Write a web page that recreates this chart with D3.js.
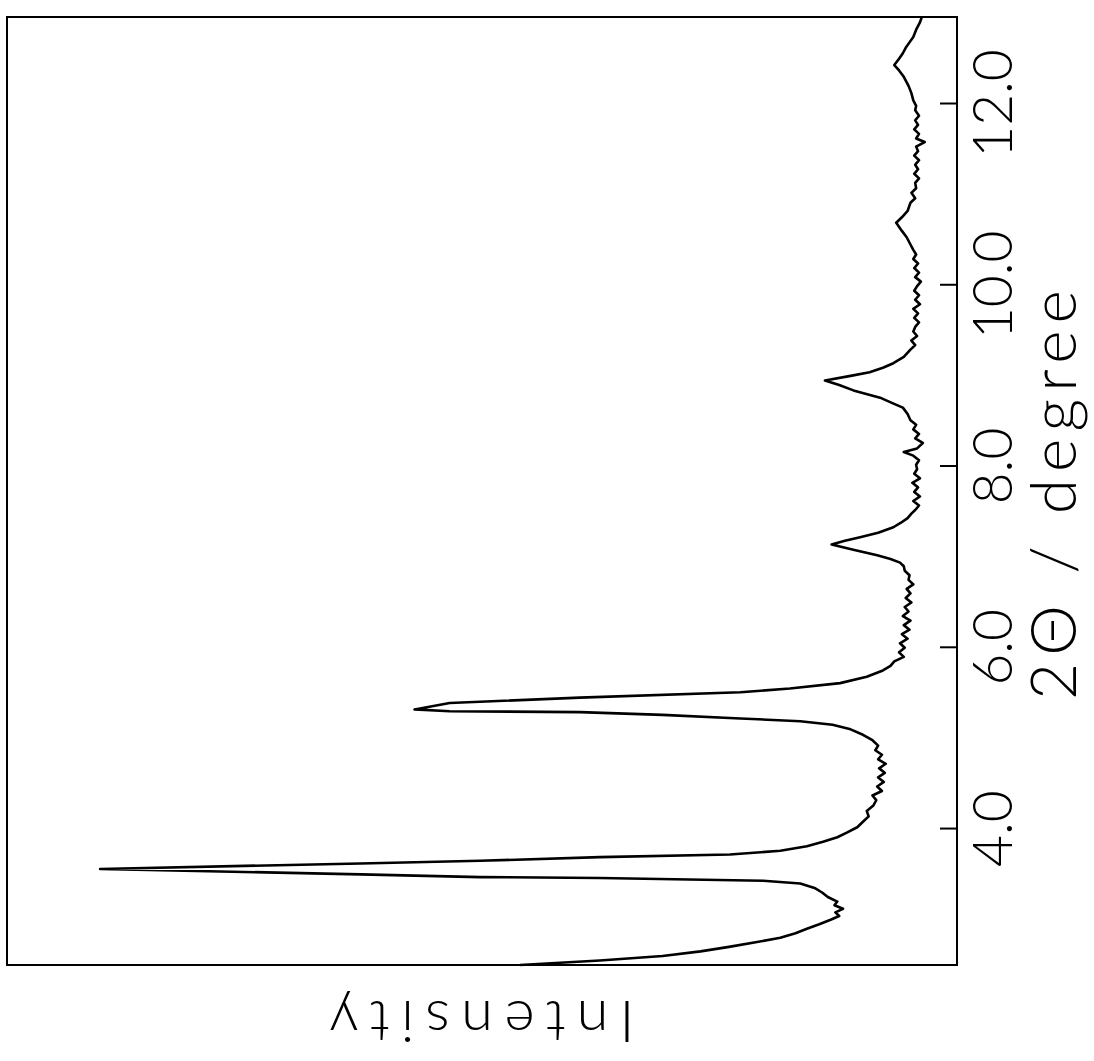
<!DOCTYPE html>
<html>
<head>
<meta charset="utf-8">
<script src="https://cdn.jsdelivr.net/npm/d3@7"></script>
<style>
  body { margin: 0; background: #fff; }
  text { font-family: Lato, "Open Sans", sans-serif; font-weight: 300; fill: #000; }
</style>
</head>
<body>
<script>
// 2theta (degree) and intensity (arbitrary units, 0-100)
var twoTheta = [
  2.50, 2.55, 2.60, 2.65, 2.70, 2.75, 2.80, 2.85, 2.90, 2.95, 3.00, 3.04, 3.08, 3.12, 3.16, 3.20, 3.25, 3.30, 3.35, 3.40,
  3.43, 3.46, 3.47, 3.50, 3.56, 3.62, 3.65, 3.69, 3.72, 3.76, 3.81, 3.86, 3.91, 3.96, 4.02,
  4.08, 4.14, 4.20, 4.26, 4.32, 4.37, 4.42, 4.47, 4.52, 4.57, 4.62, 4.67, 4.72, 4.77, 4.82, 4.87, 4.92, 4.98, 5.04, 5.10,
  5.15, 5.19, 5.22, 5.26, 5.29, 5.30, 5.32, 5.39, 5.45, 5.51, 5.55, 5.61, 5.68, 5.75, 5.80, 5.85, 5.90, 5.95, 6.00,
  6.05, 6.10, 6.15, 6.20, 6.25, 6.30, 6.35, 6.40, 6.45, 6.50, 6.55, 6.60, 6.65, 6.70, 6.75, 6.80, 6.85, 6.90, 6.94,
  6.98, 7.02, 7.08, 7.14, 7.18, 7.22, 7.27, 7.33, 7.38, 7.43, 7.48, 7.52,
  7.57, 7.62, 7.67, 7.72, 7.77, 7.82, 7.87, 7.92, 7.97, 8.02, 8.07, 8.12, 8.16, 8.20, 8.26, 8.31, 8.36, 8.41, 8.46,
  8.51, 8.58, 8.65, 8.70, 8.76, 8.84, 8.90, 8.95, 9.00, 9.04, 9.09, 9.14, 9.21, 9.29,
  9.34, 9.39, 9.44, 9.49, 9.54, 9.59, 9.64, 9.69, 9.74, 9.79, 9.84, 9.89, 9.94, 9.99, 10.04, 10.09, 10.14, 10.19, 10.24,
  10.29, 10.34, 10.39, 10.45, 10.53, 10.60, 10.69, 10.75, 10.82, 10.91, 10.96, 11.02, 11.07, 11.13, 11.18, 11.23, 11.28,
  11.33, 11.38, 11.43, 11.48, 11.53, 11.58, 11.62, 11.67, 11.72, 11.77, 11.82, 11.87, 11.93, 11.98, 12.04, 12.12, 12.20,
  12.30, 12.37, 12.43, 12.50, 12.56, 12.62, 12.68, 12.74, 12.82, 12.90, 12.96
];
var intensity = [
  46.0, 37.6, 31.0, 27.0, 24.0, 21.2, 18.6, 17.0, 15.8, 14.5, 13.3, 12.4, 12.8, 12.0, 12.9, 12.6, 13.6, 14.2, 15.0, 16.5,
  20.4, 37.6, 50.2, 62.8, 90.2, 62.8, 50.2, 37.6, 23.9, 18.6, 15.8, 14.1, 12.6, 11.6, 10.5,
  9.9, 9.3, 9.5, 8.8, 8.5, 8.9, 7.9, 8.4, 7.7, 8.3, 7.6, 8.2, 7.5, 8.3, 7.9, 8.6, 8.3, 8.9, 9.9, 11.2,
  13.1, 16.5, 22.8, 31.0, 39.7, 53.4, 57.1, 53.4, 39.7, 22.8, 17.6, 12.3, 9.5, 7.8, 7.0, 6.6, 5.6, 6.1, 5.5,
  6.0, 5.2, 5.8, 5.0, 5.6, 4.9, 5.7, 5.1, 5.5, 4.8, 5.4, 4.9, 5.3, 4.6, 5.1, 5.0, 5.5, 5.6, 6.0,
  7.0, 8.4, 10.8, 13.2, 11.8, 10.2, 8.3, 6.7, 5.9, 5.2, 4.8, 4.4,
  4.0, 4.6, 3.9, 4.5, 4.1, 4.7, 3.9, 4.5, 4.2, 4.3, 4.0, 4.6, 5.6, 4.2, 3.6, 4.4, 4.0, 4.6, 4.3,
  4.9, 5.2, 5.7, 6.8, 8.1, 10.9, 12.4, 13.9, 11.2, 9.2, 7.8, 6.7, 5.6, 4.9,
  4.4, 4.8, 4.2, 4.6, 4.4, 4.0, 4.5, 4.1, 4.6, 3.9, 4.4, 4.0, 4.5, 4.2, 3.8, 4.4, 4.0, 4.5, 4.1,
  4.6, 4.3, 4.6, 4.9, 5.3, 5.8, 6.4, 5.8, 5.2, 4.9, 4.4, 4.8, 4.3, 4.4, 4.0, 4.5, 4.1,
  4.4, 4.0, 4.5, 4.1, 4.3, 3.4, 4.3, 4.0, 4.5, 4.1, 4.4, 4.0, 4.4, 4.3, 4.6, 4.8, 5.1,
  5.6, 6.1, 6.6, 6.1, 5.7, 5.4, 5.0, 4.6, 4.3, 3.9, 3.7
];
var tickValues = [4, 6, 8, 10, 12];
var xLabel = "2\u0398 / degree";
var yLabel = "Intensity";

var W = 1094, H = 1061;

var svg = d3.select("body").append("svg")
    .attr("width", W)
    .attr("height", H);

// the page shows the chart turned a quarter turn counter-clockwise
var g = svg.append("g")
    .attr("transform", "translate(0," + H + ") rotate(-90)");

var x = d3.scaleLinear().domain([2.5, 12.96]).range([96, 1044]);
var y = d3.scaleLinear().domain([0, 100]).range([957, 7]);

var data = twoTheta.map((t, i) => ({t: t, v: intensity[i]}));

// frame
g.append("rect")
    .attr("x", x.range()[0])
    .attr("y", y.range()[1])
    .attr("width", x.range()[1] - x.range()[0])
    .attr("height", y.range()[0] - y.range()[1])
    .attr("fill", "none")
    .attr("stroke", "#000")
    .attr("stroke-width", 2);

// 2theta axis, ticks pointing inward
var axis = g.append("g")
    .attr("transform", "translate(0," + y.range()[0] + ")")
    .call(d3.axisBottom(x)
        .tickValues(tickValues)
        .tickFormat(d3.format(".1f"))
        .tickSizeInner(-17)
        .tickSizeOuter(0)
        .tickPadding(16));
axis.select(".domain").remove();
axis.selectAll(".tick line").attr("stroke", "#000").attr("stroke-width", 2);
axis.selectAll(".tick text")
    .style("font-size", "55px")
    .attr("fill", "#000");

// the trace
g.append("path")
    .datum(data)
    .attr("fill", "none")
    .attr("stroke", "#000")
    .attr("stroke-width", 2.6)
    .attr("stroke-linejoin", "round")
    .attr("d", d3.line().x(d => x(d.t)).y(d => y(d.v)));

// axis titles
g.append("text")
    .attr("x", (x.range()[0] + x.range()[1]) / 2 - 4)
    .attr("y", 1076)
    .attr("text-anchor", "middle")
    .attr("textLength", 410)
    .attr("lengthAdjust", "spacing")
    .style("font-size", "64px")
    .text(xLabel);

g.append("text")
    .attr("transform", "translate(60," + ((y.range()[0] + y.range()[1]) / 2) + ") rotate(-90)")
    .attr("text-anchor", "middle")
    .attr("textLength", 305)
    .attr("lengthAdjust", "spacing")
    .style("font-size", "58px")
    .text(yLabel);
</script>
</body>
</html>
